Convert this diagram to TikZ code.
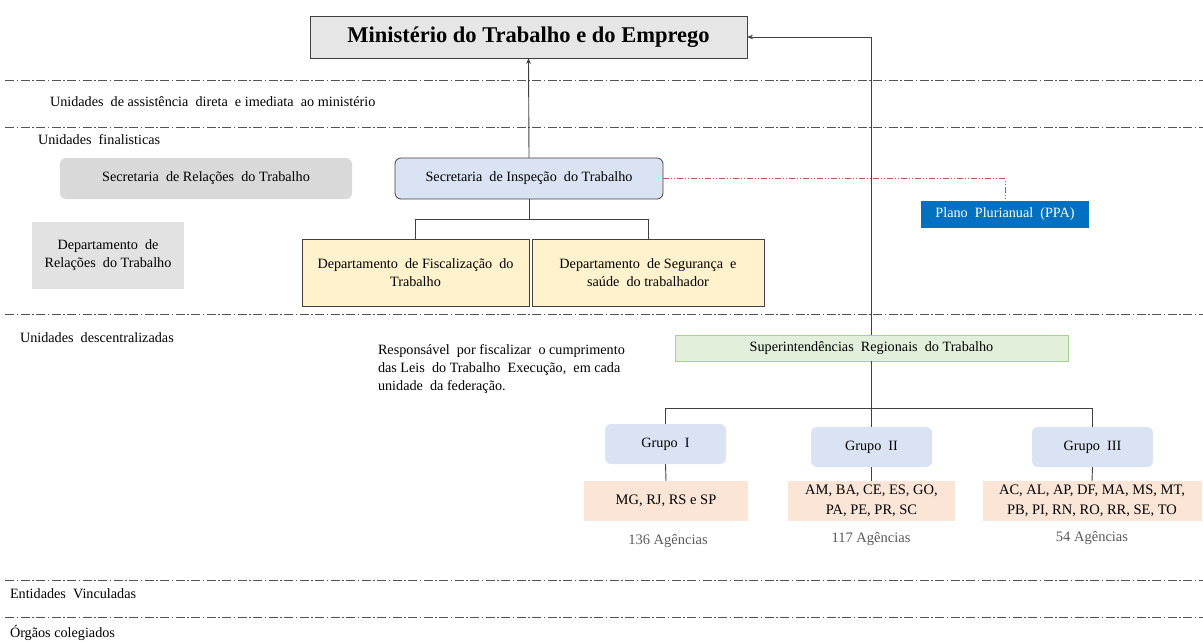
\documentclass[tikz,border=0pt]{standalone}
\usepackage{fontspec}
\setmainfont{Liberation Serif}
\usetikzlibrary{arrows.meta}
\definecolor{titlefill}{HTML}{E7E6E6}
\definecolor{edge}{HTML}{404040}
\definecolor{greyfill}{HTML}{D9D9D9}
\definecolor{greyfill2}{HTML}{E2E2E2}
\definecolor{bluefill}{HTML}{DAE3F3}
\definecolor{yellowfill}{HTML}{FFF2CC}
\definecolor{greenfill}{HTML}{E2EFDA}
\definecolor{greenedge}{HTML}{A9D18E}
\definecolor{ppablue}{HTML}{0070C0}
\definecolor{peach}{HTML}{FBE5D6}
\definecolor{agtext}{HTML}{595959}
\definecolor{redline}{HTML}{C0504D}
\tikzset{
  x=1pt, y=-1pt,
  every node/.style={inner sep=0pt, outer sep=0pt, font=\fontsize{14.2}{18}\selectfont},
  titlebox/.style={draw=edge, line width=0.9pt, fill=titlefill, minimum width=437pt, minimum height=42pt, font=\fontsize{22.5}{26}\selectfont\bfseries},
  greybox/.style={fill=greyfill, rounded corners=6pt},
  greybox2/.style={fill=greyfill2},
  sitbox/.style={draw=edge, line width=0.8pt, fill=bluefill, rounded corners=6pt},
  deptbox/.style={draw=edge, line width=0.8pt, fill=yellowfill},
  superbox/.style={draw=greenedge, line width=0.8pt, fill=greenfill},
  ppabox/.style={fill=ppablue, text=white},
  groupbox/.style={fill=bluefill, rounded corners=6pt},
  statebox/.style={fill=peach, font=\fontsize{14.5}{20}\selectfont},
  agency/.style={text=agtext, font=\fontsize{14.5}{16}\selectfont},
  lbl/.style={anchor=west},
  sepline/.style={draw=edge!90, line width=0.8pt, dash pattern=on 9pt off 2.5pt on 1.5pt off 2.5pt},
  conn/.style={draw=edge, line width=0.9pt},
  redconn/.style={draw=redline, line width=0.7pt, dash pattern=on 6pt off 2pt on 1pt off 2pt on 1pt off 2pt},
}
\begin{document}
\begin{tikzpicture}
\useasboundingbox (0,0) rectangle (1203,641);
% separator lines
\coordinate (s1a) at (5,80);   \coordinate (s1b) at (1203,80);
\coordinate (s2a) at (5,127);  \coordinate (s2b) at (1203,127);
\coordinate (s3a) at (5,314);  \coordinate (s3b) at (1203,314);
\coordinate (s4a) at (5,580);  \coordinate (s4b) at (1203,580);
\coordinate (s5a) at (5,617);  \coordinate (s5b) at (1203,617);
\draw[sepline] (s1a) -- (s1b);
\draw[sepline] (s2a) -- (s2b);
\draw[sepline] (s3a) -- (s3b);
\draw[sepline] (s4a) -- (s4b);
\draw[sepline] (s5a) -- (s5b);

% section labels
\node[lbl] (l1) at (50,102) {Unidades \ de assistência \ direta \ e imediata \ ao ministério};
\node[lbl] (l2) at (38,140) {Unidades \ finalisticas};
\node[lbl] (l3) at (20,338) {Unidades \ descentralizadas};
\node[lbl] (l4) at (10,594) {Entidades \ Vinculadas};
\node[lbl] (l5) at (10,633) {Órgãos colegiados};

% nodes
\node[titlebox] (title) at (528.5,37) {Ministério do Trabalho e do Emprego};
\node[greybox, minimum width=292pt, minimum height=41pt] (srt) at (206,178.5) {Secretaria \ de Relações \ do Trabalho};
\node[greybox2, minimum width=152pt, minimum height=67pt, align=center] (drt) at (108,255.5) {Departamento \ de\\Relações \ do Trabalho};
\node[sitbox, minimum width=268pt, minimum height=41pt] (sit) at (529,178.5) {Secretaria \ de Inspeção \ do Trabalho};
\node[deptbox, minimum width=227pt, minimum height=67pt, align=center] (dft) at (415.5,272.5) {Departamento \ de Fiscalização \ do\\Trabalho};
\node[deptbox, minimum width=232pt, minimum height=67pt, align=center] (dss) at (648,272.5) {Departamento \ de Segurança \ e\\saúde \ do trabalhador};
\node[ppabox, minimum width=168pt, minimum height=27pt] (ppa) at (1005,214.5) {Plano \ Plurianual \ (PPA)};
\node[anchor=north west, align=left] (resp) at (378,344) {Responsável \ por fiscalizar \ o cumprimento\\das Leis \ do Trabalho \ Execução, \ em cada\\unidade \ da federação.};
\node[superbox, minimum width=393pt, minimum height=26pt] (super) at (871.5,348) {Superintendências \ Regionais \ do Trabalho};

\node[groupbox, minimum width=121pt, minimum height=40pt] (g1) at (665.5,444) {Grupo \ I};
\node[groupbox, minimum width=121pt, minimum height=40pt] (g2) at (871.5,447) {Grupo \ II};
\node[groupbox, minimum width=121pt, minimum height=40pt] (g3) at (1092.5,447) {Grupo \ III};

\node[statebox, minimum width=164pt, minimum height=40pt] (mg) at (666,501) {MG, RJ, RS e SP};
\node[statebox, minimum width=167pt, minimum height=40pt, align=center] (am) at (871.5,501) {AM, BA, CE, ES, GO,\\PA, PE, PR, SC};
\node[statebox, minimum width=219pt, minimum height=40pt, align=center] (ac) at (1092,501) {AC, AL, AP, DF, MA, MS, MT,\\PB, PI, RN, RO, RR, SE, TO};

\node[agency] (ag1) at (668,541) {136 Agências};
\node[agency] (ag2) at (871,539) {117 Agências};
\node[agency] (ag3) at (1092,538) {54 Agências};

% connectors
\draw[conn, -{Stealth[length=6pt,width=4.5pt]}] (sit.north) -- (title.south);
\coordinate (sitbus) at (0,219);
\draw[conn] (sit.south) -- (sit.south |- sitbus);
\draw[conn] (dft.north) -- (dft.north |- sitbus) -- (dss.north |- sitbus) -- (dss.north);
\draw[redconn] (sit.east) -| (ppa.north);
\draw[conn, -{Stealth[length=6pt,width=4.5pt]}] (super.north) |- (title.east);
\coordinate (gbus) at (0,408);
\draw[conn] (super.south) -- (g2.north);
\draw[conn] (g1.north) -- (g1.north |- gbus) -- (g3.north |- gbus) -- (g3.north);
\draw[conn] (g1.south) -- (mg.north);
\draw[conn] (g2.south) -- (am.north);
\draw[conn] (g3.south) -- (ac.north);
\end{tikzpicture}
\end{document}
